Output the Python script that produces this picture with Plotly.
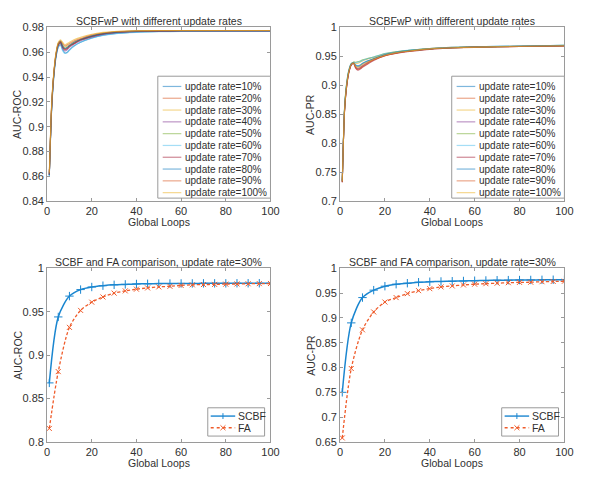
import plotly.graph_objects as go

# ---------------- data ----------------
loops = [1, 2, 3, 4, 5, 6, 7, 8, 9, 10, 12, 15, 20, 25, 30, 40, 50, 60, 80, 100]
rate_labels = ["update rate=10%", "update rate=20%", "update rate=30%", "update rate=40%",
               "update rate=50%", "update rate=60%", "update rate=70%", "update rate=80%",
               "update rate=90%", "update rate=100%"]

roc_10 = [0.860, 0.912, 0.940, 0.956, 0.964, 0.966, 0.962, 0.9595, 0.960, 0.962, 0.965, 0.968, 0.9715, 0.9738, 0.975, 0.9762, 0.9767, 0.9769, 0.977, 0.977]
roc_20 = [0.861, 0.914, 0.942, 0.958, 0.966, 0.968, 0.964, 0.962, 0.963, 0.965, 0.967, 0.970, 0.9728, 0.9748, 0.9758, 0.9768, 0.9771, 0.9772, 0.9773, 0.9773]
roc_30 = [0.862, 0.916, 0.943, 0.959, 0.967, 0.969, 0.966, 0.964, 0.965, 0.966, 0.968, 0.9705, 0.9733, 0.9752, 0.9762, 0.977, 0.9773, 0.9774, 0.9774, 0.9774]
roc_40 = [0.861, 0.913, 0.941, 0.957, 0.965, 0.967, 0.963, 0.961, 0.962, 0.964, 0.9665, 0.9693, 0.9722, 0.9743, 0.9755, 0.9766, 0.977, 0.9771, 0.9771, 0.9771]
roc_50 = [0.861, 0.914, 0.942, 0.958, 0.966, 0.968, 0.965, 0.963, 0.964, 0.965, 0.9675, 0.970, 0.973, 0.975, 0.976, 0.977, 0.9773, 0.9774, 0.9775, 0.9775]
roc_60 = [0.860, 0.911, 0.939, 0.956, 0.964, 0.966, 0.961, 0.959, 0.9595, 0.9615, 0.9648, 0.968, 0.9713, 0.9735, 0.9748, 0.976, 0.9765, 0.9767, 0.9768, 0.9768]
roc_70 = [0.861, 0.914, 0.942, 0.958, 0.966, 0.968, 0.964, 0.9625, 0.963, 0.965, 0.967, 0.970, 0.9728, 0.9748, 0.9758, 0.9767, 0.977, 0.9771, 0.9771, 0.9771]
roc_80 = [0.861, 0.915, 0.942, 0.958, 0.967, 0.969, 0.965, 0.963, 0.964, 0.9655, 0.968, 0.9703, 0.9732, 0.975, 0.976, 0.977, 0.9772, 0.9773, 0.9773, 0.9773]
roc_90 = [0.862, 0.916, 0.943, 0.959, 0.967, 0.969, 0.967, 0.965, 0.966, 0.967, 0.969, 0.971, 0.974, 0.9755, 0.9765, 0.9772, 0.9774, 0.9775, 0.9775, 0.9775]
roc_100 = [0.863, 0.917, 0.944, 0.960, 0.968, 0.970, 0.968, 0.966, 0.967, 0.968, 0.970, 0.972, 0.9745, 0.976, 0.9768, 0.9773, 0.9775, 0.9776, 0.9776, 0.9776]

pr_10 = [0.734, 0.857, 0.902, 0.925, 0.936, 0.939, 0.934, 0.932, 0.934, 0.937, 0.941, 0.946, 0.953, 0.957, 0.960, 0.9635, 0.9655, 0.9665, 0.968, 0.969]
pr_20 = [0.733, 0.855, 0.900, 0.924, 0.936, 0.938, 0.931, 0.928, 0.930, 0.933, 0.938, 0.944, 0.951, 0.956, 0.959, 0.963, 0.965, 0.966, 0.967, 0.968]
pr_30 = [0.735, 0.859, 0.904, 0.926, 0.937, 0.940, 0.938, 0.938, 0.940, 0.942, 0.945, 0.948, 0.954, 0.958, 0.960, 0.9635, 0.9655, 0.9665, 0.9675, 0.9685]
pr_40 = [0.733, 0.856, 0.901, 0.924, 0.935, 0.938, 0.932, 0.929, 0.931, 0.934, 0.939, 0.945, 0.952, 0.956, 0.959, 0.963, 0.965, 0.966, 0.9675, 0.9685]
pr_50 = [0.735, 0.860, 0.905, 0.927, 0.937, 0.940, 0.940, 0.941, 0.942, 0.944, 0.946, 0.949, 0.955, 0.958, 0.960, 0.963, 0.965, 0.966, 0.9675, 0.969]
pr_60 = [0.736, 0.861, 0.906, 0.928, 0.938, 0.940, 0.939, 0.940, 0.941, 0.943, 0.946, 0.949, 0.955, 0.958, 0.9605, 0.9635, 0.9655, 0.9665, 0.968, 0.969]
pr_70 = [0.732, 0.854, 0.899, 0.923, 0.935, 0.938, 0.929, 0.926, 0.928, 0.931, 0.936, 0.943, 0.951, 0.955, 0.958, 0.962, 0.9645, 0.966, 0.967, 0.968]
pr_80 = [0.734, 0.858, 0.903, 0.926, 0.937, 0.939, 0.935, 0.934, 0.935, 0.938, 0.942, 0.946, 0.953, 0.957, 0.9595, 0.963, 0.965, 0.966, 0.9675, 0.9685]
pr_90 = [0.733, 0.855, 0.900, 0.924, 0.936, 0.938, 0.930, 0.927, 0.929, 0.932, 0.937, 0.944, 0.951, 0.9555, 0.9585, 0.9625, 0.9645, 0.9655, 0.967, 0.968]
pr_100 = [0.734, 0.857, 0.902, 0.925, 0.936, 0.939, 0.933, 0.931, 0.933, 0.936, 0.940, 0.945, 0.952, 0.9565, 0.959, 0.963, 0.965, 0.966, 0.9675, 0.9685]

cmp_loops = [1, 5, 10, 15, 20, 25, 30, 35, 40, 45, 50, 55, 60, 65, 70, 75, 80, 85, 90, 95, 100]
scbf_roc = [0.868, 0.944, 0.968, 0.9755, 0.9785, 0.980, 0.981, 0.9815, 0.982, 0.9822, 0.9824, 0.9825, 0.9826, 0.9826, 0.9827, 0.9827, 0.9827, 0.9828, 0.9828, 0.9828, 0.9828]
fa_roc = [0.8155, 0.881, 0.932, 0.9515, 0.961, 0.967, 0.9714, 0.974, 0.976, 0.9774, 0.9786, 0.9793, 0.9803, 0.981, 0.9813, 0.9815, 0.9818, 0.982, 0.9822, 0.9824, 0.9825]
scbf_pr = [0.750, 0.890, 0.941, 0.956, 0.964, 0.968, 0.970, 0.972, 0.973, 0.9735, 0.974, 0.9745, 0.975, 0.9755, 0.976, 0.9762, 0.9764, 0.9766, 0.9768, 0.977, 0.977]
fa_pr = [0.658, 0.798, 0.876, 0.912, 0.932, 0.941, 0.949, 0.955, 0.959, 0.9625, 0.9645, 0.9665, 0.968, 0.969, 0.970, 0.971, 0.9717, 0.972, 0.973, 0.9735, 0.974]

cmp_names = ["SCBF", "FA"]
roc_series = [roc_10, roc_20, roc_30, roc_40, roc_50, roc_60, roc_70, roc_80, roc_90, roc_100]
pr_series = [pr_10, pr_20, pr_30, pr_40, pr_50, pr_60, pr_70, pr_80, pr_90, pr_100]

# ---------------- styling ----------------
W, H = 593, 484
FONT = "Liberation Sans, Arial, sans-serif"
TXT = "#303030"
AXC = "#9a9a9a"
mat = ["#0072BD", "#D95319", "#EDB120", "#7E2F8E", "#77AC30", "#4DBEEE", "#A2142F"]
colors = [mat[i % 7] for i in range(10)]
c_scbf = "#1a86d0"
c_fa = "#ef5b2a"


def px(x):
    return x / W


def py(y):
    return 1 - y / H


# axes pixel boxes (left, right, top, bottom)
boxes = {
    1: (45, 273, 22, 200),
    2: (344, 573, 22, 200),
    3: (45, 273, 269, 447),
    4: (344, 573, 269, 447),
}

fig = go.Figure()

for i, (name, ys) in enumerate(zip(rate_labels, roc_series)):
    fig.add_trace(go.Scatter(x=loops, y=ys, mode="lines", name=name, showlegend=False,
                             line=dict(color=colors[i], width=1.1, shape="spline", smoothing=0.6),
                             opacity=0.6, xaxis="x", yaxis="y"))
for i, (name, ys) in enumerate(zip(rate_labels, pr_series)):
    fig.add_trace(go.Scatter(x=loops, y=ys, mode="lines", name=name, showlegend=False,
                             line=dict(color=colors[i], width=1.1, shape="spline", smoothing=0.6),
                             opacity=0.6, xaxis="x2", yaxis="y2"))

for ax, (s, f) in ((3, (scbf_roc, fa_roc)), (4, (scbf_pr, fa_pr))):
    fig.add_trace(go.Scatter(x=cmp_loops, y=s, mode="lines+markers", name=cmp_names[0], showlegend=False,
                             line=dict(color=c_scbf, width=1.5, shape="spline", smoothing=0.8),
                             marker=dict(symbol="cross-thin", size=6, line=dict(color=c_scbf, width=1)),
                             xaxis=f"x{ax}", yaxis=f"y{ax}"))
    fig.add_trace(go.Scatter(x=cmp_loops, y=f, mode="lines+markers", name=cmp_names[1], showlegend=False,
                             line=dict(color=c_fa, width=1.3, dash="3px,2px", shape="spline", smoothing=0.8),
                             marker=dict(symbol="x-thin", size=5, line=dict(color=c_fa, width=1)),
                             xaxis=f"x{ax}", yaxis=f"y{ax}"))


def yticks(vals):
    return dict(tickvals=vals, ticktext=[("%g" % v) for v in vals])


ycfg = {
    1: dict(range=[0.84, 0.98], **yticks([0.84, 0.86, 0.88, 0.90, 0.92, 0.94, 0.96, 0.98])),
    2: dict(range=[0.7, 1.0], **yticks([0.7, 0.75, 0.8, 0.85, 0.9, 0.95, 1.0])),
    3: dict(range=[0.8, 1.0], **yticks([0.8, 0.85, 0.9, 0.95, 1.0])),
    4: dict(range=[0.65, 1.0], **yticks([0.65, 0.7, 0.75, 0.8, 0.85, 0.9, 0.95, 1.0])),
}

common = dict(showline=True, linecolor=AXC, linewidth=1, mirror="allticks", ticks="inside",
              ticklen=3, tickcolor=AXC, showgrid=False, zeroline=False,
              tickfont=dict(family=FONT, size=11, color=TXT))

layout = {}
for k, (l, r, t, b) in boxes.items():
    sfx = "" if k == 1 else str(k)
    layout[f"xaxis{sfx}"] = dict(domain=[px(l), px(r)], anchor=f"y{sfx}", range=[0, 100],
                                 tickvals=[0, 20, 40, 60, 80, 100], **common)
    layout[f"yaxis{sfx}"] = dict(domain=[py(b), py(t)], anchor=f"x{sfx}", **ycfg[k], **common)

fig.update_layout(**layout)

annotations = []
shapes = []

titles = {1: "SCBFwP with different update rates", 2: "SCBFwP with different update rates",
          3: "SCBF and FA comparison, update rate=30%", 4: "SCBF and FA comparison, update rate=30%"}
ylabels = {1: "AUC-ROC", 2: "AUC-PR", 3: "AUC-ROC", 4: "AUC-PR"}
for k, (l, r, t, b) in boxes.items():
    cx = (l + r) / 2
    annotations.append(dict(x=px(cx), y=py(t - 7), xref="paper", yref="paper", text=titles[k],
                            showarrow=False, xanchor="center", yanchor="middle",
                            font=dict(family=FONT, size=10.5, color=TXT)))
    annotations.append(dict(x=px(cx), y=py(b + 22), xref="paper", yref="paper", text="Global Loops",
                            showarrow=False, xanchor="center", yanchor="middle",
                            font=dict(family=FONT, size=10.5, color=TXT)))
    annotations.append(dict(x=px(l - 30), y=py((t + b) / 2), xref="paper", yref="paper", text=ylabels[k],
                            showarrow=False, textangle=-90, xanchor="center", yanchor="middle",
                            font=dict(family=FONT, size=10.5, color=TXT)))

# legends for top panels
for k in (1, 2):
    l, r, t, b = boxes[k]
    bx0, bx1, by0, by1 = r - 115, r, t + 50, b - 3
    shapes.append(dict(type="rect", xref="paper", yref="paper", x0=px(bx0), x1=px(bx1),
                       y0=py(by1), y1=py(by0), line=dict(color=AXC, width=1), fillcolor="white"))
    for i, name in enumerate(rate_labels):
        yy = by0 + 10.5 + i * 12.1
        shapes.append(dict(type="line", xref="paper", yref="paper", x0=px(bx0 + 5), x1=px(bx0 + 24),
                           y0=py(yy), y1=py(yy), line=dict(color=colors[i], width=1.2), opacity=0.5))
        annotations.append(dict(x=px(bx0 + 26), y=py(yy), xref="paper", yref="paper", text=name,
                                showarrow=False, xanchor="left", yanchor="middle",
                                font=dict(family=FONT, size=10, color=TXT)))

# legends for bottom panels
for k in (3, 4):
    l, r, t, b = boxes[k]
    bx0, bx1, by0, by1 = r - 64, r - 6, b - 35, b - 6
    shapes.append(dict(type="rect", xref="paper", yref="paper", x0=px(bx0), x1=px(bx1),
                       y0=py(by1), y1=py(by0), line=dict(color=AXC, width=1), fillcolor="white"))
    rows = [(cmp_names[0], c_scbf, "solid", "+"), (cmp_names[1], c_fa, "dot", "x")]
    for i, (name, col, dash, mk) in enumerate(rows):
        yy = by0 + 8.5 + i * 12
        x0, x1 = bx0 + 3, bx0 + 28
        mx = (x0 + x1) / 2
        shapes.append(dict(type="line", xref="paper", yref="paper", x0=px(x0), x1=px(x1),
                           y0=py(yy), y1=py(yy), line=dict(color=col, width=1.4, dash=dash)))
        if mk == "+":
            shapes.append(dict(type="line", xref="paper", yref="paper", x0=px(mx), x1=px(mx),
                               y0=py(yy - 3), y1=py(yy + 3), line=dict(color=col, width=1)))
        else:
            shapes.append(dict(type="line", xref="paper", yref="paper", x0=px(mx - 2.5), x1=px(mx + 2.5),
                               y0=py(yy - 2.5), y1=py(yy + 2.5), line=dict(color=col, width=1)))
            shapes.append(dict(type="line", xref="paper", yref="paper", x0=px(mx - 2.5), x1=px(mx + 2.5),
                               y0=py(yy + 2.5), y1=py(yy - 2.5), line=dict(color=col, width=1)))
        annotations.append(dict(x=px(x1 + 1), y=py(yy), xref="paper", yref="paper", text=name,
                                showarrow=False, xanchor="left", yanchor="middle",
                                font=dict(family=FONT, size=10.5, color=TXT)))

fig.update_layout(width=W, height=H, margin=dict(l=0, r=0, t=0, b=0),
                  paper_bgcolor="white", plot_bgcolor="white", showlegend=False,
                  annotations=annotations, shapes=shapes)

fig.write_html(
    "out.html",
    config={"displayModeBar": False, "staticPlot": True},
    post_script="document.body.style.margin='0';document.body.style.overflow='hidden';",
)
